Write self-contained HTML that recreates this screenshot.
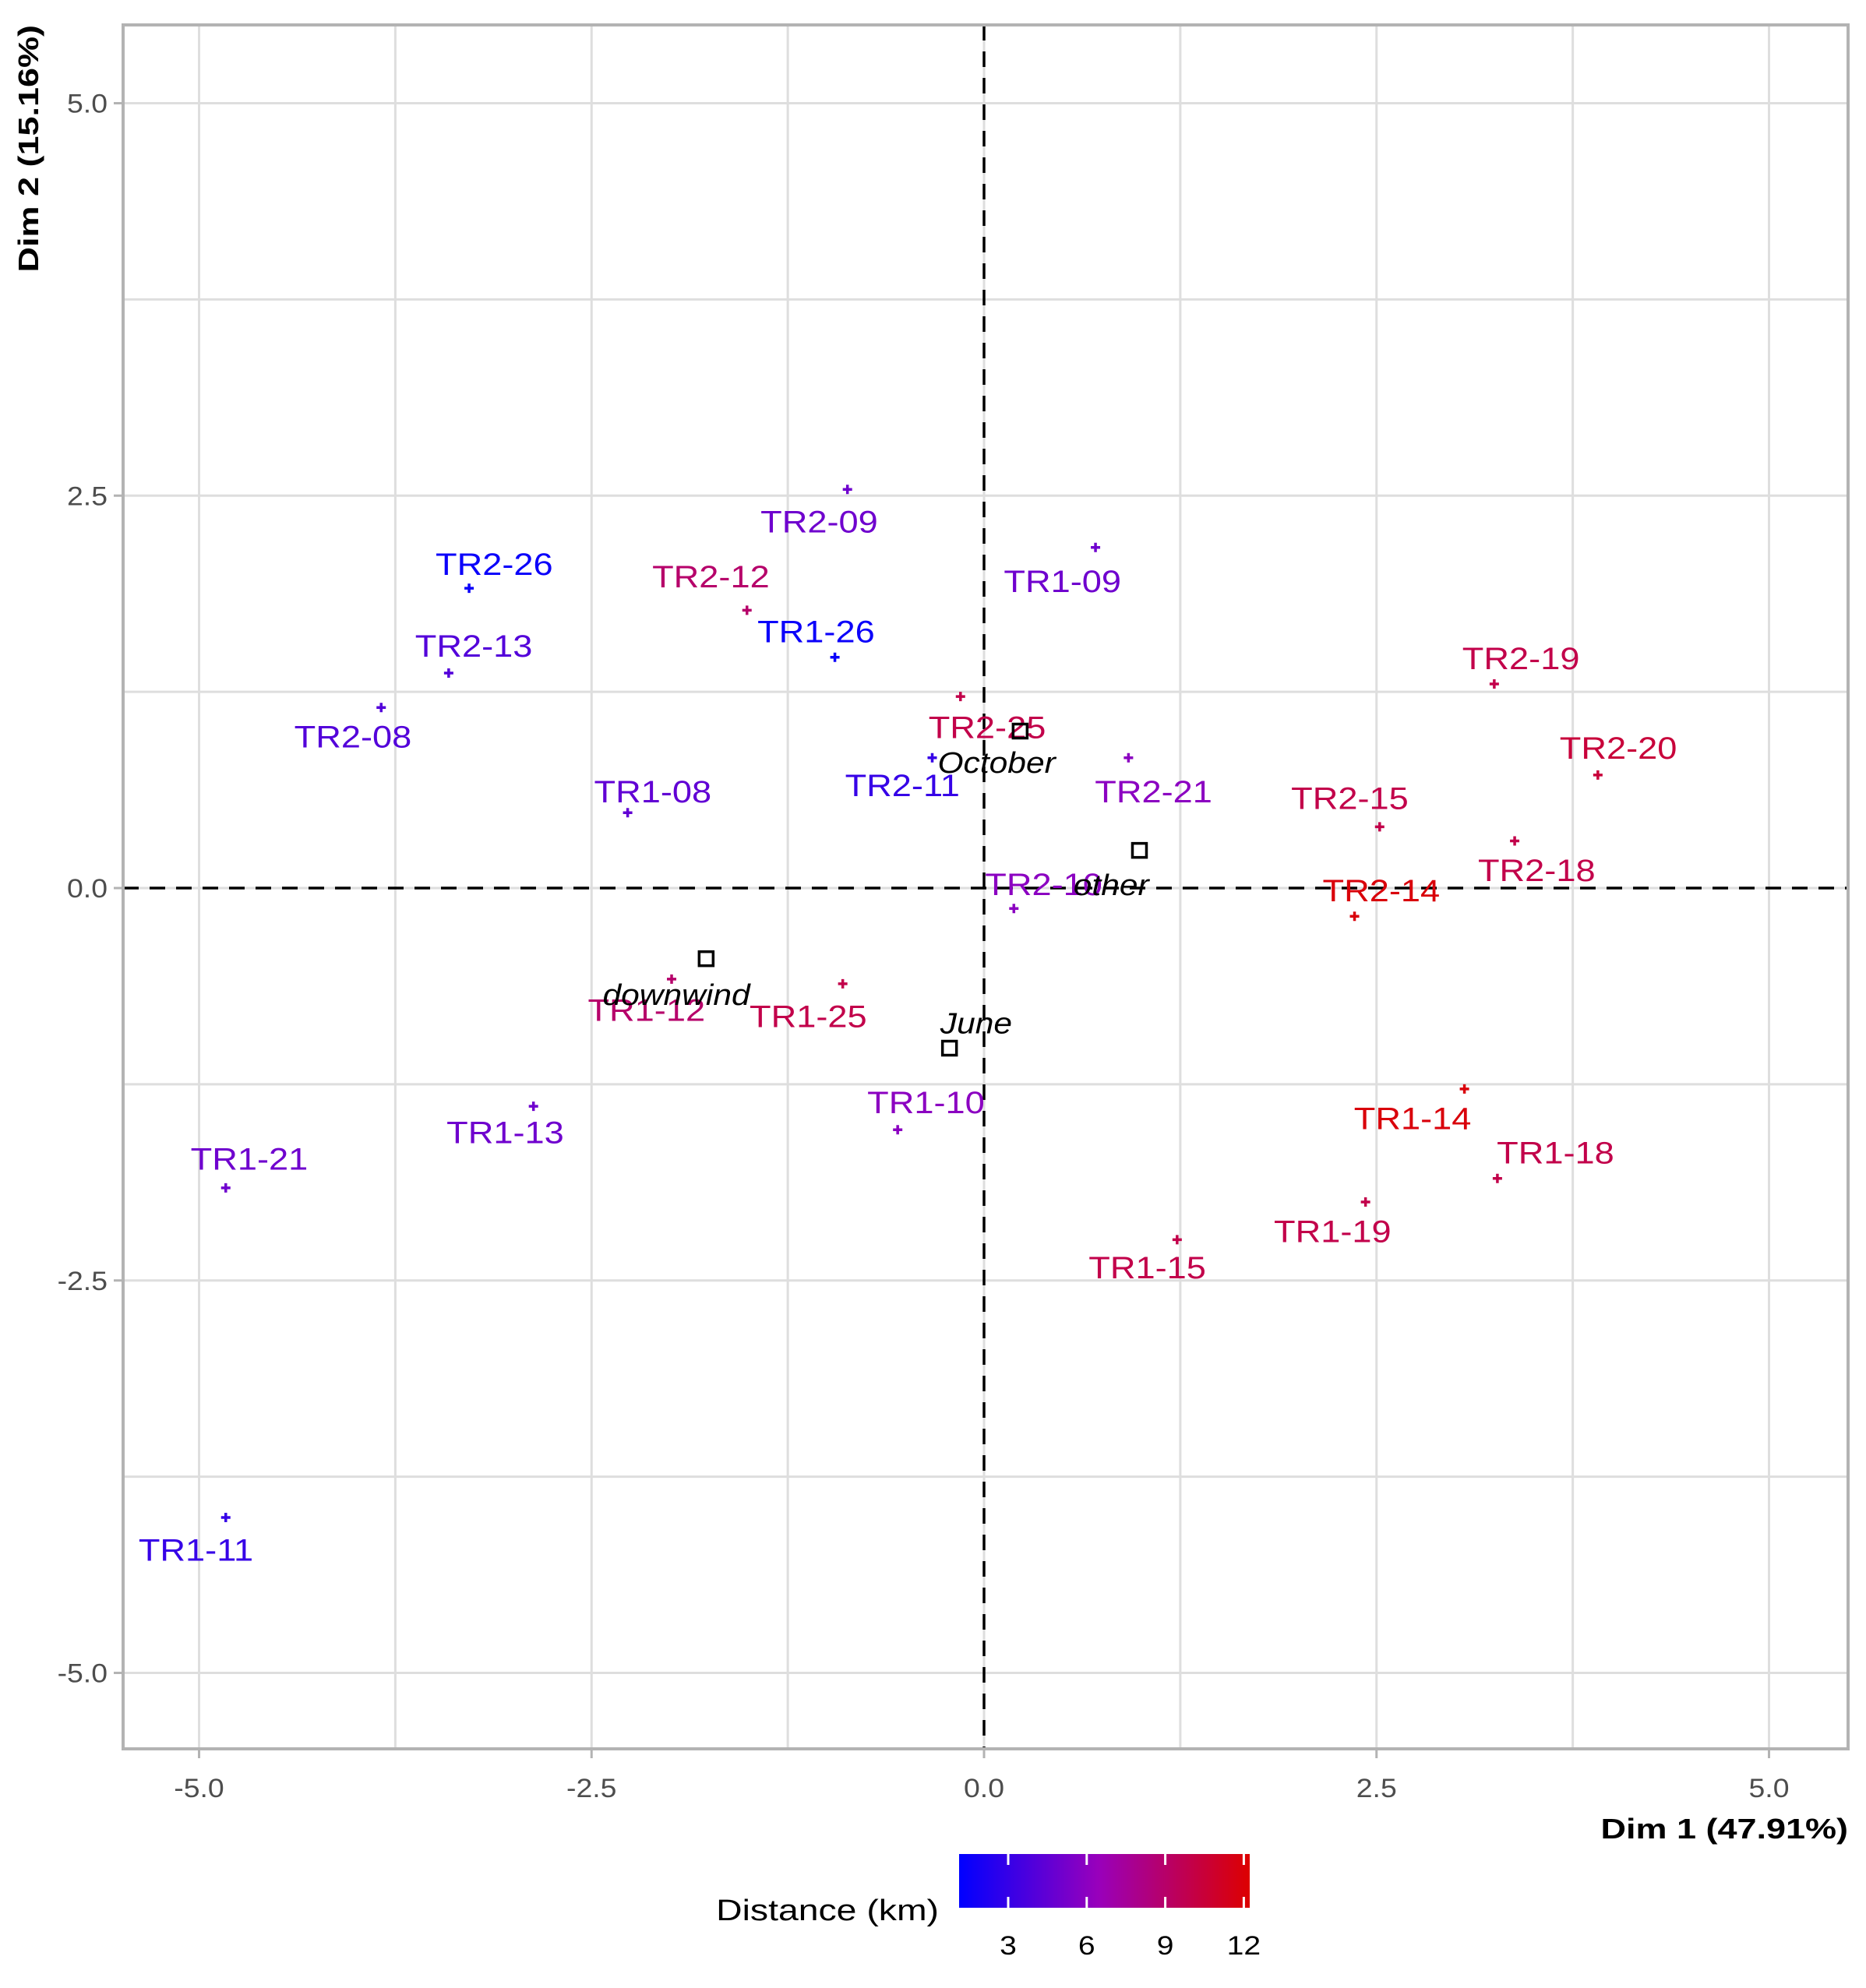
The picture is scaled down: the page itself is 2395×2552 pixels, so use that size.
<!DOCTYPE html>
<html><head><meta charset="utf-8"><style>
html,body{margin:0;padding:0;background:#fff;}
svg{display:block;font-family:"Liberation Sans",Arial,sans-serif;}
</style></head><body>
<svg id="chart" width="2395" height="2552" viewBox="0 0 2395 2552" xmlns="http://www.w3.org/2000/svg">
<defs>
<linearGradient id="lg" x1="0" x2="1" y1="0" y2="0">
<stop offset="0" stop-color="#0000ff"/><stop offset="0.48" stop-color="#9900bb"/><stop offset="1" stop-color="#dd0000"/>
</linearGradient>
</defs>
<g id="grid"></g>
<g id="refs"></g>
<g id="marks"></g>
<g id="axes"></g>
<g id="legend"></g>
</svg>
<script>
const names = ["TR2-09","TR1-09","TR2-26","TR2-12","TR1-26","TR2-13","TR2-08","TR1-08","TR2-25","TR2-11","TR2-21","TR2-19","TR2-20","TR2-15","TR2-18","TR2-14","TR2-10","TR1-12","TR1-25","TR1-10","TR1-13","TR1-21","TR1-14","TR1-18","TR1-19","TR1-15","TR1-11"];
const dim1 = [-0.87,0.71,-3.28,-1.51,-0.95,-3.41,-3.84,-2.27,-0.15,-0.33,0.92,3.25,3.91,2.52,3.38,2.36,0.19,-1.99,-0.90,-0.55,-2.87,-4.83,3.06,3.27,2.43,1.23,-4.83];
const dim2 = [2.54,2.17,1.91,1.77,1.47,1.37,1.15,0.48,1.22,0.83,0.83,1.30,0.72,0.39,0.30,-0.18,-0.13,-0.58,-0.61,-1.54,-1.39,-1.91,-1.28,-1.85,-2.00,-2.24,-4.01];
const labelX = [-1.05,0.50,-3.12,-1.74,-1.07,-3.25,-4.02,-2.11,0.02,-0.52,1.08,3.42,4.04,2.33,3.52,2.53,0.38,-2.15,-1.12,-0.37,-3.05,-4.68,2.73,3.64,2.22,1.04,-5.02];
const labelY = [2.33,1.95,2.06,1.98,1.63,1.54,0.96,0.61,1.02,0.65,0.61,1.46,0.89,0.57,0.11,-0.02,0.02,-0.78,-0.82,-1.37,-1.56,-1.73,-1.47,-1.69,-2.19,-2.42,-4.22];
const distance = [5,5,1.5,9,1.5,4,4,4.5,10,3,6,10,10.5,10,10,12,6,9,10,6,5,5,12,10,10,10,3];
const suppNames = ["October","other","downwind","June"];
const suppX = [0.23,0.99,-1.77,-0.22];
const suppY = [1.00,0.24,-0.45,-1.02];
const suppLX = [0.08,0.81,-1.96,-0.05];
const suppLY = [0.80,0.02,-0.68,-0.86];
const xTicks = [-5.0,-2.5,0.0,2.5,5.0];
const yTicks = [5.0,2.5,0.0,-2.5,-5.0];
const legendTicks = [3,6,9,12];

const NS="http://www.w3.org/2000/svg";
const L=158,R=2372,T=32,B=2245;
const sx=v=>1263+v*201.5, sy=v=>1140-v*201.5;
const lx=v=>1294+(v-3)*33.6;
function mk(tag,attrs,parent){const e=document.createElementNS(NS,tag);for(const k in attrs)e.setAttribute(k,attrs[k]);parent.appendChild(e);return e;}
function txt(parent,x,y,s,rot,attrs){const a=Object.assign({x:0,y:0,transform:`translate(${x},${y})${rot?' rotate('+rot+')':''} scale(${s},1)`},attrs);return mk('text',a,parent);}
function col(d){const t=Math.max(0,Math.min(1,(d-1.1)/(12.3-1.1)));
 const a=[0,0,255],m=[153,0,187],b=[221,0,0];let c;
 if(t<0.48){const u=t/0.48;c=a.map((v,i)=>v+(m[i]-v)*u);}else{const u=(t-0.48)/0.52;c=m.map((v,i)=>v+(b[i]-v)*u);}
 return "rgb("+c.map(Math.round).join(",")+")";}
const g=document.getElementById('grid'),rf=document.getElementById('refs'),mg=document.getElementById('marks'),ax=document.getElementById('axes'),lg=document.getElementById('legend');
mk('rect',{x:L,y:T,width:R-L,height:B-T,fill:'#fff'},g);
for(let v=-5;v<=5.01;v+=1.25){
 let e=mk('line',{x1:sx(v),x2:sx(v),y1:T,y2:B,stroke:'#dedede','stroke-width':3},g);
 
 e=mk('line',{x1:L,x2:R,y1:sy(v),y2:sy(v),stroke:'#dedede','stroke-width':3},g);
 
}
let e=mk('line',{x1:sx(0),x2:sx(0),y1:T,y2:B,stroke:'#000','stroke-width':3.5,'stroke-dasharray':'20 14'},rf);

e=mk('line',{x1:L,x2:R,y1:sy(0),y2:sy(0),stroke:'#000','stroke-width':3.5,'stroke-dasharray':'20 14'},rf);

for(let i=0;i<names.length;i++){
 const c=col(distance[i]),x=sx(dim1[i]),y=sy(dim2[i]);
 const p=mk('path',{d:`M${x-6} ${y}H${x+6}M${x} ${y-6}V${y+6}`,stroke:c,'stroke-width':3.5,fill:'none'},mg);
 
 const t=txt(mg,sx(labelX[i]),sy(labelY[i]),1.13,0,{fill:c,'font-size':40,'text-anchor':'middle','dominant-baseline':'central'});
 t.textContent=names[i];
}
for(let i=0;i<suppNames.length;i++){
 const x=sx(suppX[i]),y=sy(suppY[i]);
 const r=mk('rect',{x:x-9,y:y-9,width:18,height:18,fill:'none',stroke:'#000','stroke-width':3.5},mg);
 
 const t=txt(mg,sx(suppLX[i]),sy(suppLY[i]),1.12,0,{fill:'#000','font-size':38,'font-style':'italic','text-anchor':'middle','dominant-baseline':'central'});
 t.textContent=suppNames[i];
}
const border=mk('rect',{x:L,y:T,width:R-L,height:B-T,fill:'none',stroke:'#b3b3b3','stroke-width':4},ax);

xTicks.forEach(v=>{
 const l=mk('line',{x1:sx(v),x2:sx(v),y1:B,y2:B+12,stroke:'#b3b3b3','stroke-width':3},ax);
 
 const t=txt(ax,sx(v),2307,1.1,0,{fill:'#4d4d4d','font-size':34,'text-anchor':'middle'});
 t.textContent=v.toFixed(1);
});
yTicks.forEach(v=>{
 const l=mk('line',{x1:L-12,x2:L,y1:sy(v),y2:sy(v),stroke:'#b3b3b3','stroke-width':3},ax);
 
 const t=txt(ax,138,sy(v)+12,1.1,0,{fill:'#4d4d4d','font-size':34,'text-anchor':'end'});
 t.textContent=v.toFixed(1);
});
let t=txt(ax,R,2360,1.25,0,{fill:'#000','font-size':36,'font-weight':'bold','text-anchor':'end'});
t.textContent='Dim 1 (47.91%)';
t=txt(ax,49,32,1.25,-90,{fill:'#000','font-size':36,'font-weight':'bold','text-anchor':'end'});
t.textContent='Dim 2 (15.16%)';
const bar=mk('rect',{x:1231,y:2380,width:373,height:69,fill:'url(#lg)'},lg);

legendTicks.forEach(v=>{
 let l=mk('line',{x1:lx(v),x2:lx(v),y1:2380,y2:2394,stroke:'#fff','stroke-width':3},lg);
 
 l=mk('line',{x1:lx(v),x2:lx(v),y1:2435,y2:2449,stroke:'#fff','stroke-width':3},lg);
 
 const tt=txt(lg,lx(v),2509,1.15,0,{fill:'#000','font-size':34,'text-anchor':'middle'});
 tt.textContent=String(v);
});
t=txt(lg,1205,2465,1.22,0,{fill:'#000','font-size':38,'text-anchor':'end'});
t.textContent='Distance (km)';
</script>
</body></html>
